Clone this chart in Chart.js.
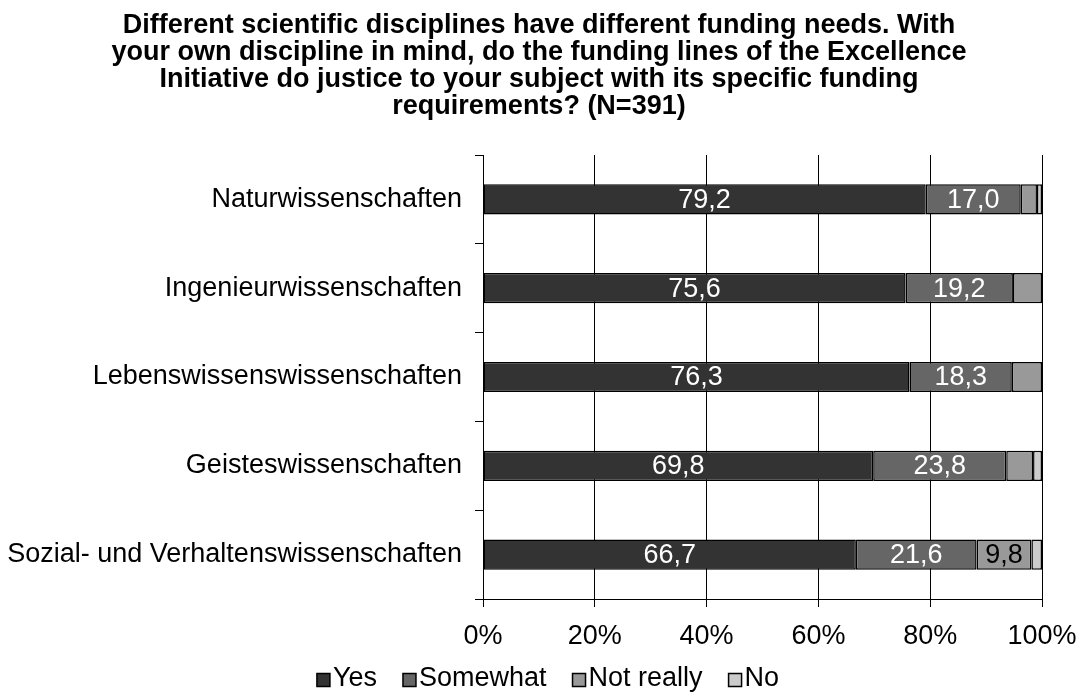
<!DOCTYPE html>
<html>
<head>
<meta charset="utf-8">
<script src="https://cdn.jsdelivr.net/npm/chart.js@4"></script>
<style>
  html, body { margin: 0; padding: 0; background: #fff; }
  #wrap { width: 1078px; height: 693px; }
</style>
</head>
<body>
<div id="wrap"><canvas id="chart"></canvas></div>
<script>
// категории и значения (в процентах)
const categories = [
  "Naturwissenschaften",
  "Ingenieurwissenschaften",
  "Lebenswissenswissenschaften",
  "Geisteswissenschaften",
  "Sozial- und Verhaltenswissenschaften",
];
const seriesNames = ["Yes", "Somewhat", "Not really", "No"];
const yes = [79.2, 75.6, 76.3, 69.8, 66.7];
const somewhat = [17.0, 19.2, 18.3, 23.8, 21.6];
const notReally = [2.9, 5.2, 5.4, 4.8, 9.8];
const no = [0.9, 0, 0, 1.6, 1.9];
const xTicks = [0, 20, 40, 60, 80, 100];

const colors = ["#333333", "#666666", "#999999", "#cccccc"];
const labelColors = ["#ffffff", "#ffffff", "#000000", "#000000"];
const FONT = "'Liberation Sans', Arial, sans-serif";

Chart.defaults.font.family = FONT;
Chart.defaults.color = "#000";

// подписи значений внутри сегментов
const valueLabels = {
  id: "valueLabels",
  afterDatasetsDraw(chart) {
    const ctx = chart.ctx;
    ctx.save();
    ctx.font = "27px " + FONT;
    ctx.textAlign = "center";
    ctx.textBaseline = "middle";
    chart.data.datasets.forEach((ds, i) => {
      const meta = chart.getDatasetMeta(i);
      meta.data.forEach((bar, j) => {
        const v = ds.data[j];
        if (v < 9) return;
        const cx = (bar.x + bar.base) / 2;
        ctx.fillStyle = labelColors[i];
        ctx.fillText(v.toFixed(1).replace(".", ","), cx, bar.y + 1);
      });
    });
    ctx.restore();
  },
};

// легенда снизу: квадрат + текст, плотно
const bottomLegend = {
  id: "bottomLegend",
  afterDraw(chart) {
    const ctx = chart.ctx;
    ctx.save();
    ctx.font = "27px " + FONT;
    ctx.textBaseline = "middle";
    const box = 13, gap = 3, spacing = 26;
    const items = chart.data.datasets.map((ds) => ({
      text: ds.label,
      color: ds.backgroundColor,
      w: ctx.measureText(ds.label).width,
    }));
    let total = 0;
    items.forEach((it, i) => {
      total += box + gap + it.w + (i > 0 ? spacing : 0);
    });
    let x = chart.width / 2 + 9 - total / 2;
    const y = 680;
    items.forEach((it) => {
      ctx.fillStyle = it.color;
      ctx.fillRect(x, y - box / 2, box, box);
      ctx.strokeStyle = "#000";
      ctx.lineWidth = 1.5;
      ctx.strokeRect(x, y - box / 2, box, box);
      ctx.fillStyle = "#000";
      ctx.fillText(it.text, x + box + gap, y - 1);
      x += box + gap + it.w + spacing;
    });
    ctx.restore();
  },
};

const values = [yes, somewhat, notReally, no];

new Chart(document.getElementById("chart"), {
  type: "bar",
  data: {
    labels: categories,
    datasets: seriesNames.map((name, i) => ({
      label: name,
      data: values[i],
      backgroundColor: colors[i],
      borderColor: "#000",
      borderWidth: 1.5,
      borderSkipped: false,
      categoryPercentage: 1,
      barPercentage: 0.34,
    })),
  },
  options: {
    indexAxis: "y",
    responsive: true,
    maintainAspectRatio: false,
    animation: false,
    layout: {
      padding: { left: 0, right: 0, top: 0, bottom: 44 },
    },
    scales: {
      x: {
        stacked: true,
        min: 0,
        max: 100,
        afterBuildTicks: (axis) => {
          axis.ticks = xTicks.map((v) => ({ value: v }));
        },
        afterFit: (axis) => {
          axis.height = 50;
          axis.paddingLeft = 0;
          axis.paddingRight = 36;
        },
        ticks: {
          font: { size: 27 },
          padding: 13,
          callback: (v) => v + "%",
          maxRotation: 0,
        },
        grid: {
          color: "#000",
          lineWidth: 1,
          tickLength: 8,
        },
        border: { color: "#000", width: 1 },
      },
      y: {
        stacked: true,
        afterFit: (axis) => {
          axis.width = 483;
        },
        ticks: {
          font: { size: 27 },
          padding: 13,
        },
        grid: {
          offset: true,
          drawOnChartArea: false,
          color: "#000",
          tickLength: 8,
        },
        border: { color: "#000", width: 1 },
      },
    },
    plugins: {
      title: {
        display: true,
        text: [
          "Different scientific disciplines have different funding needs. With",
          "your own discipline in mind, do the funding lines of the Excellence",
          "Initiative do justice to your subject with its specific funding",
          "requirements? (N=391)",
        ],
        font: { size: 27, weight: "bold", lineHeight: 1 },
        padding: { top: 12, bottom: 35 },
      },
      legend: { display: false },
      tooltip: { enabled: false },
    },
  },
  plugins: [valueLabels, bottomLegend],
});
</script>
</body>
</html>
